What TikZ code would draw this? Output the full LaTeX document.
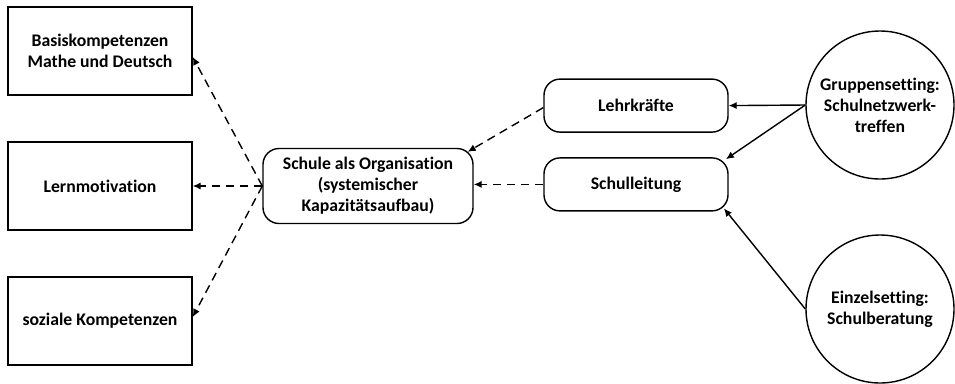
\documentclass[tikz,border=0pt]{standalone}
\usepackage{fontspec}
\setmainfont{Carlito}[Ligatures=NoCommon]
\usetikzlibrary{arrows.meta}
\begin{document}
\begin{tikzpicture}[
        every node/.style={font=\bfseries\fontsize{12.6}{15}\selectfont, align=center, line width=1pt},
        outcome/.style={draw, minimum width=4.6cm, minimum height=2.2cm},
        actor/.style={draw, rounded corners=0.4cm, minimum width=4.6cm, minimum height=1.325cm},
        setting/.style={draw, circle, minimum size=3.7cm, inner sep=0pt},
        effect/.style={line width=1pt, dash pattern=on 6pt off 4pt, -{Latex[length=2mm,width=1.8mm]}},
        input/.style={line width=1pt, -{Latex[length=2mm,width=1.8mm]}}]
                \useasboundingbox (0,0) rectangle (23.875,-9.575);
                \node[outcome] (basis) at (2.5,-1.275) {Basiskompetenzen\\Mathe und Deutsch};
                \node[outcome] (lern) at (2.5,-4.65) {Lernmotivation};
                \node[outcome] (sozial) at (2.5,-8.025) {soziale Kompetenzen};
                \node[actor, minimum width=5.25cm, minimum height=1.875cm] (schule) at (9.2,-4.65) {Schule als Organisation\\(systemischer\\Kapazitätsaufbau)};
                \node[actor] (lehr) at (15.9,-2.64) {Lehrkräfte};
                \node[actor] (leitung) at (15.9,-4.61) {Schulleitung};
                \node[setting] (gruppe) at (22,-2.625) {Gruppensetting:\\Schulnetzwerk-\\treffen};
                \node[setting] (einzel) at (22,-7.725) {Einzelsetting:\\Schulberatung};
                \draw[effect] (schule.west) -- ([yshift=-0.15cm]basis.east);
                \draw[effect] (schule.west) -- (lern.east);
                \draw[effect] (schule.west) -- ([yshift=0.1cm]sozial.east);
                \draw[effect] ([yshift=-0.05cm]lehr.west) -- ([shift={(-0.15,-0.1)}]schule.north east);
                \draw[effect] (leitung.west) -- ([yshift=0.04cm]schule.east);
                \draw[input] (gruppe.west) -- (lehr.east);
                \draw[input] (gruppe.west) -- ([shift={(-0.07,-0.05)}]leitung.north east);
                \draw[input] (einzel.west) -- ([shift={(-0.12,0.08)}]leitung.south east);
            \end{tikzpicture}
\end{document}
